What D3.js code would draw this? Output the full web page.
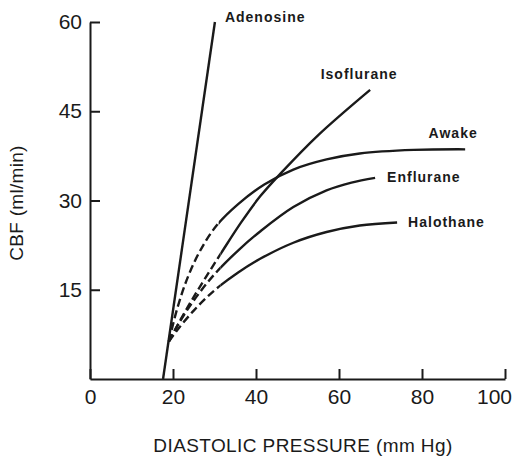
<!DOCTYPE html>
<html>
<head>
<meta charset="utf-8">
<script src="https://cdn.jsdelivr.net/npm/d3@7"></script>
<style>
  body { margin: 0; background: #fff; }
  svg { font-family: "Liberation Sans", Arial, sans-serif; }
</style>
</head>
<body>
<div id="chart"></div>
<script>
var width = 521;
var height = 457;

// series names, in drawing order
var names = ["Adenosine", "Isoflurane", "Awake", "Enflurane", "Halothane"];

// curves: [diastolic pressure, CBF]
var adenosine = [[17.6, 0], [30.1, 60]];
var isoflurane = [[19, 6.3], [22, 10.2], [25, 13.8], [28, 17.2], [32, 21.6], [36.5, 26.4], [41, 30.7], [46, 34.6], [55, 41], [67.5, 48.6]];
var awake = [[19, 6.3], [21, 11.8], [23.5, 17], [26.5, 21.5], [30.5, 25.8], [35.7, 29.4], [42, 32.7], [49, 35.2], [57, 36.9], [65, 37.9], [78, 38.5], [90.4, 38.6]];
var enflurane = [[19, 6.3], [21, 8.9], [25, 13.2], [30, 17.6], [36, 21.8], [41, 24.8], [49, 28.9], [57, 31.7], [63, 33], [68.7, 33.8]];
var halothane = [[19, 6.3], [21, 8.2], [25, 11.5], [30, 14.9], [35.7, 17.9], [41, 20.2], [49, 22.9], [57, 24.7], [65, 25.8], [74, 26.3]];
var series = [adenosine, isoflurane, awake, enflurane, halothane];

// extrapolated (dashed) part ends at this pressure
var dashedUntil = [0, 31.5, 31, 31.5, 31.5];

var xTicks = [0, 20, 40, 60, 80, 100];
var yTicks = [15, 30, 45, 60];

var svg = d3.select("#chart").append("svg")
  .attr("width", width)
  .attr("height", height);

var x = d3.scaleLinear().domain([0, 100]).range([90, 505]);
var y = d3.scaleLinear().domain([0, 60]).range([379, 22]);

// axes, ticks point inward
var xAxis = svg.append("g")
  .attr("transform", "translate(0," + y(0) + ")")
  .call(d3.axisBottom(x).tickValues(xTicks).tickSizeInner(-10).tickSizeOuter(0).tickPadding(10));
var yAxis = svg.append("g")
  .attr("transform", "translate(" + x(0) + ",0)")
  .call(d3.axisLeft(y).tickValues(yTicks).tickSizeInner(-10).tickSizeOuter(0).tickPadding(8));

[xAxis, yAxis].forEach(function(a) {
  a.select(".domain").attr("stroke", "#1a1a1a").attr("stroke-width", 2);
  a.selectAll(".tick line").attr("stroke", "#1a1a1a").attr("stroke-width", 2);
  a.selectAll(".tick text").attr("font-size", 21).attr("fill", "#1a1a1a")
    .attr("font-family", "'Liberation Sans', Arial, sans-serif");
});
// the last label is pulled in so it stays on the page
xAxis.selectAll(".tick text").filter(function(d) { return d === 100; }).attr("dx", -11);

svg.append("text")
  .attr("x", 303).attr("y", 452)
  .attr("text-anchor", "middle")
  .attr("font-size", 19)
  .attr("letter-spacing", 0.4)
  .attr("fill", "#1a1a1a")
  .text("DIASTOLIC PRESSURE (mm Hg)");

svg.append("text")
  .attr("transform", "translate(23,203) rotate(-90)")
  .attr("text-anchor", "middle")
  .attr("font-size", 19)
  .attr("letter-spacing", 0.3)
  .attr("fill", "#1a1a1a")
  .text("CBF (ml/min)");

var line = d3.line()
  .x(function(d) { return x(d[0]); })
  .y(function(d) { return y(d[1]); })
  .curve(d3.curveCatmullRom.alpha(0.5));

var defs = svg.append("defs");
var curves = svg.append("g");

series.forEach(function(pts, i) {
  var xs = x(dashedUntil[i]);
  defs.append("clipPath").attr("id", "dash" + i)
    .append("rect").attr("x", 0).attr("y", 0).attr("width", xs).attr("height", height);
  defs.append("clipPath").attr("id", "solid" + i)
    .append("rect").attr("x", xs).attr("y", 0).attr("width", width - xs).attr("height", height);

  curves.append("path")
    .attr("d", line(pts))
    .attr("clip-path", "url(#dash" + i + ")")
    .attr("fill", "none")
    .attr("stroke", "#1a1a1a")
    .attr("stroke-width", 2.4)
    .attr("stroke-dasharray", "8,4");
  curves.append("path")
    .attr("d", line(pts))
    .attr("clip-path", "url(#solid" + i + ")")
    .attr("fill", "none")
    .attr("stroke", "#1a1a1a")
    .attr("stroke-width", 2.4);
});

// labels sit next to the last point of each curve
var labelOffset = [[10, -5, "start"], [-11, -16, "middle"], [-12, -16, "middle"], [12, -1, "start"], [11, 0, "start"]];

series.forEach(function(pts, i) {
  var last = pts[pts.length - 1];
  svg.append("text")
    .attr("x", x(last[0]) + labelOffset[i][0])
    .attr("y", y(last[1]) + labelOffset[i][1])
    .attr("dy", "0.35em")
    .attr("text-anchor", labelOffset[i][2])
    .attr("font-size", 14)
    .attr("font-weight", "bold")
    .attr("letter-spacing", 1)
    .attr("fill", "#1a1a1a")
    .text(names[i]);
});
</script>
</body>
</html>
